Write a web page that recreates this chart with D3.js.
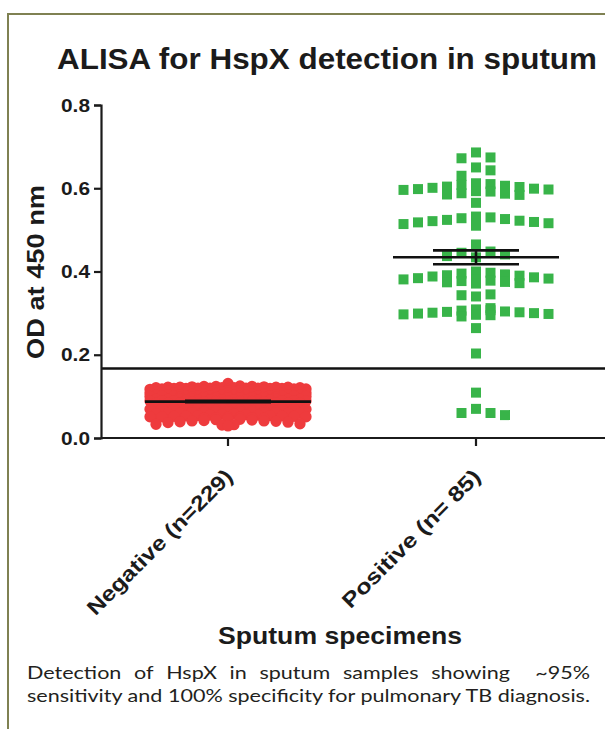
<!DOCTYPE html>
<html>
<head>
<meta charset="utf-8">
<script src="https://cdn.jsdelivr.net/npm/d3@7"></script>
<style>
  body { margin: 0; background: #fff; }
  svg { display: block; }
</style>
</head>
<body>
<svg id="chart" width="605" height="729"></svg>
<script>
// ---------------- data ----------------
const categories = ["Negative (n=229)", "Positive (n= 85)"];

const negativeOD = [
  0.131,
  0.124,0.122,0.121,0.119,0.118,0.123,0.120,0.117,0.125,0.122,0.119,0.121,0.118,0.116,0.124,
  0.120,0.122,0.117,0.119,0.123,0.121,0.118,0.120,0.116,0.122,0.119,0.124,0.117,0.121,0.120,
  0.114,0.112,0.109,0.111,0.113,0.108,0.110,0.115,0.112,0.107,0.111,0.114,0.109,0.113,0.110,
  0.112,0.108,0.115,0.111,0.106,0.113,0.110,0.109,0.112,0.114,0.107,0.111,0.108,0.113,0.110,
  0.112,0.109,0.115,0.111,0.106,
  0.104,0.101,0.099,0.103,0.100,0.102,0.098,0.105,0.101,0.097,0.103,0.100,0.104,0.099,0.102,
  0.096,0.101,0.105,0.098,0.103,0.100,0.102,0.097,0.104,0.099,0.101,0.103,0.098,0.100,0.102,
  0.096,0.104,0.101,0.099,0.103,
  0.094,0.091,0.089,0.093,0.090,0.092,0.088,0.095,0.091,0.087,0.093,0.090,0.094,0.089,0.092,
  0.086,0.091,0.095,0.088,0.093,0.090,0.092,0.087,0.094,0.089,0.091,0.093,0.088,0.090,0.092,
  0.084,0.081,0.079,0.083,0.080,0.082,0.078,0.085,0.081,0.077,0.083,0.080,0.084,0.079,0.082,
  0.076,0.081,0.085,0.078,0.083,0.080,0.082,0.077,0.084,0.079,
  0.074,0.071,0.069,0.073,0.070,0.072,0.068,0.075,0.071,0.067,0.073,0.070,0.074,0.069,0.072,
  0.066,0.071,0.075,0.068,0.073,
  0.064,0.061,0.059,0.063,0.060,0.062,0.058,0.065,0.061,0.057,0.063,0.060,0.064,0.059,0.062,
  0.056,0.061,0.065,0.058,0.063,
  0.054,0.051,0.049,0.053,0.050,0.052,0.048,0.055,0.051,0.047,0.053,0.050,0.054,0.049,0.052,
  0.046,0.051,0.055,
  0.044,0.041,0.039,0.043,0.040,0.042,0.038,0.045,0.041,0.037,
  0.034,0.031,0.029,0.033,0.032
];

const positiveOD = [
  0.686,0.674,0.672,0.650,0.643,0.630,
  0.612,0.610,0.608,0.606,0.604,0.603,0.601,0.599,0.598,0.597,0.596,0.593,0.592,0.588,0.587,0.585,0.584,
  0.565,
  0.532,0.530,0.528,0.526,0.524,0.522,0.521,0.519,0.518,0.516,0.514,0.510,
  0.465,
  0.448,0.445,0.441,0.437,0.434,
  0.400,0.397,0.395,0.393,0.391,0.390,0.388,0.386,0.384,0.383,0.381,0.380,0.378,0.377,0.375,0.374,0.372,0.371,
  0.345,0.343,0.340,
  0.312,0.309,0.307,0.306,0.304,0.303,0.302,0.301,0.300,0.299,0.298,0.297,0.296,0.295,0.292,
  0.264,0.203,0.109,
  0.070,0.060,0.060,0.055
];

const yTicks = [0.0, 0.2, 0.4, 0.6, 0.8];
const cutoffOD = 0.167;

const titleText = "ALISA for HspX detection in sputum";
const yLabelText = "OD at 450 nm";
const xLabelText = "Sputum specimens";
const captionLines = [
  "Detection of HspX in sputum samples showing  ~95%",
  "sensitivity and 100% specificity for pulmonary TB diagnosis."
];

// ---------------- setup ----------------
const svg = d3.select("#chart");
const ink = "#1b1b1b";
const boldFont = "'Liberation Sans', Arial, Helvetica, sans-serif";

// frame
svg.append("path")
  .attr("d", "M8,729V14H605")
  .attr("fill", "none")
  .attr("stroke", "#7f8152")
  .attr("stroke-width", 2);

const x = d3.scaleBand().domain(categories).range([104, 600]);
const y = d3.scaleLinear().domain([0, 0.8]).range([438, 105]);
const axisX0 = 101, plotRight = 605;

// ---------------- swarm layout ----------------
// points within thresholdPx of a cluster's top are spread sideways;
// when a layer is full, the next layer continues (optionally staggered by half a step)
function swarm(values, center, dx, maxCols, thresholdPx, stagger) {
  const pts = values.map(v => ({ v })).sort((a, b) => b.v - a.v);
  const clusters = [];
  let cur = null;
  pts.forEach(p => {
    p.y = y(p.v);
    if (!cur || p.y - cur.y0 > thresholdPx) {
      cur = { y0: p.y, items: [] };
      clusters.push(cur);
    }
    cur.items.push(p);
  });
  clusters.forEach(c => {
    let layer = 0, k = 0;
    c.items.forEach(p => {
      const half = stagger && layer % 2 === 1;
      const cols = half ? maxCols + 1 : maxCols;
      let off;
      if (half) {
        const j = Math.floor(k / 2) + 0.5;
        off = k % 2 === 0 ? j : -j;
      } else {
        off = k === 0 ? 0 : (k % 2 === 1 ? (k + 1) / 2 : -k / 2);
      }
      p.x = center + off * dx;
      k++;
      if (k >= cols) { k = 0; layer++; }
    });
  });
  return pts;
}

const cNeg = x(categories[0]) + x.bandwidth() / 2;
const cPos = x(categories[1]) + x.bandwidth() / 2;

const negPts = swarm(negativeOD, cNeg, 12, 13, 7, true);
const posPts = swarm(positiveOD, cPos, 14.5, 11, 12, false);

// ---------------- points ----------------
svg.append("g").selectAll("path")
  .data(negPts).join("path")
  .attr("d", d3.symbol(d3.symbolCircle, 100))
  .attr("transform", d => `translate(${d.x},${d.y})`)
  .attr("fill", "#ee3b3d");

svg.append("g").selectAll("path")
  .data(posPts).join("path")
  .attr("d", d3.symbol(d3.symbolSquare, 100))
  .attr("transform", d => `translate(${d.x},${d.y})`)
  .attr("fill", "#38b449");

// ---------------- mean ± SEM ----------------
function stats(vals) {
  const m = d3.mean(vals);
  const sem = d3.deviation(vals) / Math.sqrt(vals.length);
  return { m, sem };
}
const groups = [
  { c: cNeg, s: stats(negativeOD) },
  { c: cPos, s: stats(positiveOD) }
];
const gm = svg.append("g").attr("stroke", "#111").attr("stroke-width", 2.6).attr("fill", "none");
groups.forEach(g => {
  const ym = y(g.s.m), yt = y(g.s.m + g.s.sem), yb = y(g.s.m - g.s.sem);
  gm.append("line").attr("x1", g.c - 83).attr("x2", g.c + 83).attr("y1", ym).attr("y2", ym);
  gm.append("line").attr("x1", g.c - 43).attr("x2", g.c + 43).attr("y1", yt).attr("y2", yt);
  gm.append("line").attr("x1", g.c - 43).attr("x2", g.c + 43).attr("y1", yb).attr("y2", yb);
  gm.append("line").attr("x1", g.c).attr("x2", g.c).attr("y1", yt).attr("y2", yb);
});

// cutoff line
svg.append("line")
  .attr("x1", axisX0).attr("x2", plotRight)
  .attr("y1", y(cutoffOD)).attr("y2", y(cutoffOD))
  .attr("stroke", "#111").attr("stroke-width", 2.4);

// ---------------- axes ----------------
const yAxis = svg.append("g")
  .attr("transform", `translate(${axisX0},0)`)
  .call(d3.axisLeft(y).tickValues(yTicks).tickFormat(d3.format(".1f")).tickSize(7).tickPadding(4));
yAxis.select(".domain").attr("stroke", ink).attr("stroke-width", 2.2);
yAxis.selectAll(".tick line").attr("stroke", ink).attr("stroke-width", 2.2);
yAxis.selectAll(".tick text")
  .attr("fill", ink)
  .attr("textLength", 29).attr("lengthAdjust", "spacingAndGlyphs")
  .style("font-family", boldFont).style("font-weight", "bold").style("font-size", "19px");

const xAxis = svg.append("g")
  .attr("transform", `translate(0,${y(0)})`)
  .call(d3.axisBottom(x).tickSize(8).tickSizeOuter(0));
xAxis.select(".domain").remove();
xAxis.append("line").attr("x1", axisX0).attr("x2", plotRight).attr("y1", 0).attr("y2", 0)
  .attr("stroke", ink).attr("stroke-width", 2.2);
xAxis.selectAll(".tick line").attr("stroke", ink).attr("stroke-width", 2.2);
xAxis.selectAll(".tick text")
  .attr("x", 0).attr("y", 0).attr("dy", 0)
  .attr("text-anchor", "end")
  .attr("transform", "translate(6,40) rotate(-45)")
  .attr("fill", ink)
  .attr("textLength", (d, i) => i === 0 ? 196 : 186)
  .attr("lengthAdjust", "spacingAndGlyphs")
  .style("font-family", boldFont).style("font-weight", "bold").style("font-size", "21px");

// ---------------- titles ----------------
svg.append("text")
  .attr("x", 57).attr("y", 69)
  .attr("textLength", 540).attr("lengthAdjust", "spacingAndGlyphs")
  .attr("fill", ink)
  .style("font-family", boldFont).style("font-weight", "bold").style("font-size", "29px")
  .text(titleText);

svg.append("text")
  .attr("transform", "translate(44,272) rotate(-90)")
  .attr("text-anchor", "middle")
  .attr("textLength", 174).attr("lengthAdjust", "spacingAndGlyphs")
  .attr("fill", ink)
  .style("font-family", boldFont).style("font-weight", "bold").style("font-size", "23px")
  .text(yLabelText);

svg.append("text")
  .attr("x", 340).attr("y", 644)
  .attr("text-anchor", "middle")
  .attr("textLength", 244).attr("lengthAdjust", "spacingAndGlyphs")
  .attr("fill", ink)
  .style("font-family", boldFont).style("font-weight", "bold").style("font-size", "24px")
  .text(xLabelText);

// ---------------- caption (justified) ----------------
const capFont = "Lato, 'Open Sans', sans-serif";
const capLeft = 27, capRight = 590;
const capG = svg.append("g").attr("fill", "#231f20")
  .style("font-family", capFont).style("font-size", "18px");

// line 2 fills the full measure; its stretch factor is reused for line 1's words
const line2 = capG.append("text")
  .attr("x", capLeft).attr("y", 702)
  .text(captionLines[1]);
const stretch = (capRight - capLeft) / line2.node().getComputedTextLength();
line2.attr("textLength", capRight - capLeft).attr("lengthAdjust", "spacingAndGlyphs");

(function () {
  const raw = captionLines[0];
  const words = raw.split(/\s+/);
  const gapsW = [];
  raw.replace(/\S+(\s+)/g, (m, sp) => { gapsW.push(sp.length); return m; });
  const nodes = words.map(w => capG.append("text").attr("y", 679).text(w));
  const widths = nodes.map(n => n.node().getComputedTextLength() * stretch);
  const total = d3.sum(widths);
  const unit = (capRight - capLeft - total) / d3.sum(gapsW);
  let cx = capLeft;
  nodes.forEach((n, i) => {
    n.attr("x", cx).attr("textLength", widths[i]).attr("lengthAdjust", "spacingAndGlyphs");
    cx += widths[i] + (i < gapsW.length ? gapsW[i] * unit : 0);
  });
})();
</script>
</body>
</html>
